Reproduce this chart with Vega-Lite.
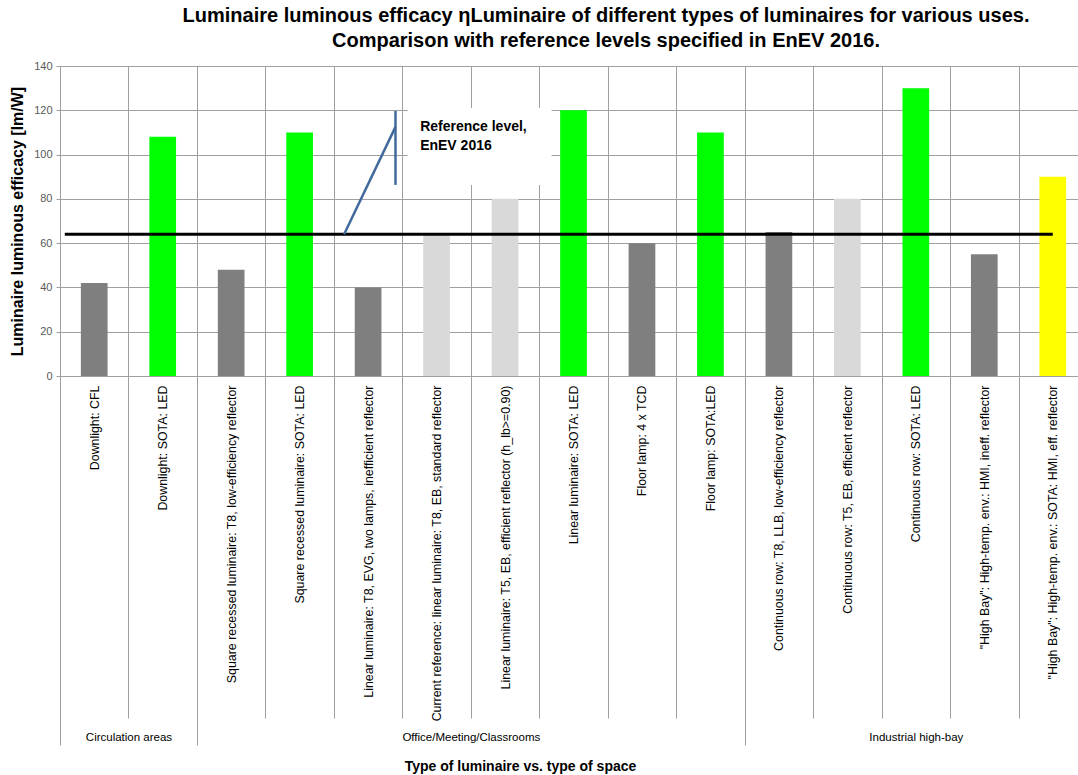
{
  "$schema": "https://vega.github.io/schema/vega-lite/v6.json",
  "width": 1018,
  "height": 310,
  "autosize": {"type": "none"},
  "padding": {"left": 60, "top": 66, "right": 0, "bottom": 399},
  "background": "white",
  "config": {"view": {"stroke": null}, "font": "Liberation Sans"},
  "title": {
    "text": ["Luminaire luminous efficacy ηLuminaire of different  types of luminaires for  various uses.", "Comparison with reference levels specified in EnEV 2016."],
    "anchor": "middle",
    "fontSize": 20,
    "fontWeight": "bold",
    "font": "Liberation Sans",
    "lineHeight": 25,
    "offset": 9,
    "dx": 37,
    "color": "black"
  },
  "datasets": {
    "bars": [
      {"luminaire": "Downlight: CFL", "efficacy": 42, "kind": "conventional"},
      {"luminaire": "Downlight: SOTA: LED", "efficacy": 108, "kind": "SOTA LED"},
      {"luminaire": "Square recessed luminaire: T8, low-efficiency reflector", "efficacy": 48, "kind": "conventional"},
      {"luminaire": "Square recessed luminaire: SOTA: LED", "efficacy": 110, "kind": "SOTA LED"},
      {"luminaire": "Linear luminaire: T8, EVG, two lamps, inefficient reflector", "efficacy": 40, "kind": "conventional"},
      {"luminaire": "Current reference: linear luminaire: T8, EB, standard reflector", "efficacy": 64, "kind": "efficient reference"},
      {"luminaire": "Linear luminaire: T5, EB, efficient reflector (h_lb>=0.90)", "efficacy": 80, "kind": "efficient reference"},
      {"luminaire": "Linear luminaire: SOTA: LED", "efficacy": 120, "kind": "SOTA LED"},
      {"luminaire": "Floor lamp: 4 x TCD", "efficacy": 60, "kind": "conventional"},
      {"luminaire": "Floor lamp: SOTA:LED", "efficacy": 110, "kind": "SOTA LED"},
      {"luminaire": "Continuous row: T8, LLB, low-efficiency reflector", "efficacy": 65, "kind": "conventional"},
      {"luminaire": "Continuous row: T5, EB, efficient reflector", "efficacy": 80, "kind": "efficient reference"},
      {"luminaire": "Continuous row: SOTA: LED", "efficacy": 130, "kind": "SOTA LED"},
      {"luminaire": "\"High Bay\": High-temp. env.: HMI, ineff. reflector", "efficacy": 55, "kind": "conventional"},
      {"luminaire": "\"High Bay\": High-temp. env.: SOTA: HMI, eff.  reflector", "efficacy": 90, "kind": "SOTA HMI"}
    ],
    "refline": [{"x": 0.07, "x2": 14.5, "y": 64}],
    "callout": [
      {"x": 4.15, "y": 64, "x2": 4.9, "y2": 112.5},
      {"x": 4.9, "y": 119.7, "x2": 4.9, "y2": 86.3}
    ],
    "box": [{"x": 5.08, "x2": 7.18, "y": 86.3, "y2": 121}],
    "notes": [
      {"x": 5.26, "y": 112.5, "label": "Reference level,"},
      {"x": 5.26, "y": 103.8, "label": "EnEV 2016"}
    ]
  },
  "layer": [
    {
      "data": {"name": "bars"},
      "mark": {"type": "bar", "width": {"band": 0.39}},
      "encoding": {
        "x": {
          "field": "luminaire", "type": "nominal", "sort": null,
          "scale": {"paddingInner": 0, "paddingOuter": 0, "range": [0, 1027]},
          "axis": {
            "orient": "bottom",
            "title": null, "labelAngle": 270, "labelAlign": "right", "labelBaseline": "middle",
            "labelPadding": 9, "labelFontSize": 12.4, "labelColor": "black", "labelLimit": 400,
            "ticks": false, "domain": true, "domainColor": "#a0a0a0", "grid": true, "gridColor": "#a0a0a0",
            "tickBand": "extent", "labelOverlap": false
          }
        },
        "y": {
          "field": "efficacy", "type": "quantitative",
          "title": "Luminaire luminous efficacy [lm/W]",
          "scale": {"domain": [0, 140], "nice": false},
          "axis": {
            "titleFontSize": 16, "titleFontWeight": "bold", "titleColor": "black", "titlePadding": 8,
            "values": [0, 20, 40, 60, 80, 100, 120, 140], "labelFontSize": 11, "labelColor": "#595959",
            "tickSize": 4, "tickColor": "#a0a0a0", "domainColor": "#a0a0a0", "gridColor": "#a0a0a0", "labelPadding": 4
          }
        },
        "color": {
          "field": "kind", "type": "nominal",
          "scale": {"domain": ["conventional", "SOTA LED", "efficient reference", "SOTA HMI"], "range": ["#7f7f7f", "#00ff00", "#d9d9d9", "#ffff00"]},
          "legend": null
        }
      }
    },
    {
      "data": {"name": "refline"},
      "mark": {"type": "rule", "color": "black", "strokeWidth": 3},
      "encoding": {
        "x": {
          "field": "x", "type": "quantitative",
          "scale": {"domain": [0, 15], "range": [0, 1027], "nice": false, "zero": false},
          "axis": {"orient": "bottom", "values": [0, 1, 2, 3, 4, 5, 6, 7, 8, 9, 10, 11, 12, 13, 14, 15], "labels": false, "domain": false, "grid": false, "ticks": true, "tickSize": 342, "tickColor": "#a0a0a0", "title": null}
        },
        "x2": {"field": "x2"},
        "y": {"field": "y", "type": "quantitative", "title": "Luminaire luminous efficacy [lm/W]"}
      }
    },
    {
      "data": {"name": "box"},
      "mark": {"type": "rect", "fill": "white"},
      "encoding": {
        "x": {
          "field": "x", "type": "quantitative",
          "scale": {"domain": [0, 15], "range": [0, 1027], "nice": false, "zero": false},
          "axis": {
            "orient": "bottom",
            "values": [1, 6, 12.5], "ticks": false, "domain": false, "grid": false,
            "labelExpr": "datum.value == 1 ? 'Circulation areas' : datum.value == 6 ? 'Office/Meeting/Classrooms' : 'Industrial high-bay'",
            "labelPadding": 355, "labelFontSize": 11.5, "labelColor": "black", "labelAngle": 0, "labelFlush": false, "labelOverlap": false,
            "title": "Type of luminaire vs. type of space", "titleFontSize": 14, "titleFontWeight": "bold", "titleColor": "black",
            "titleX": 460, "titleY": 383, "titleBaseline": "top"
          }
        },
        "x2": {"field": "x2"},
        "y": {"field": "y", "type": "quantitative", "title": "Luminaire luminous efficacy [lm/W]"},
        "y2": {"field": "y2"}
      }
    },
    {
      "data": {"name": "callout"},
      "mark": {"type": "rule", "color": "#41699b", "strokeWidth": 2.5},
      "encoding": {
        "x": {
          "field": "x", "type": "quantitative",
          "scale": {"domain": [0, 15], "range": [0, 1027], "nice": false, "zero": false},
          "axis": {"orient": "bottom", "values": [0, 2, 10, 15], "labels": false, "domain": false, "grid": false, "ticks": true, "tickSize": 369, "tickColor": "#a0a0a0", "title": null}
        },
        "x2": {"field": "x2"},
        "y": {"field": "y", "type": "quantitative", "title": "Luminaire luminous efficacy [lm/W]"},
        "y2": {"field": "y2"}
      }
    },
    {
      "data": {"name": "notes"},
      "mark": {"type": "text", "align": "left", "baseline": "middle", "fontSize": 14, "fontWeight": "bold", "color": "black"},
      "encoding": {
        "x": {
          "field": "x", "type": "quantitative",
          "scale": {"domain": [0, 15], "range": [0, 1027], "nice": false, "zero": false},
          "axis": null
        },
        "y": {"field": "y", "type": "quantitative", "title": "Luminaire luminous efficacy [lm/W]"},
        "text": {"field": "label"}
      }
    }
  ],
  "resolve": {"scale": {"x": "independent"}}
}
